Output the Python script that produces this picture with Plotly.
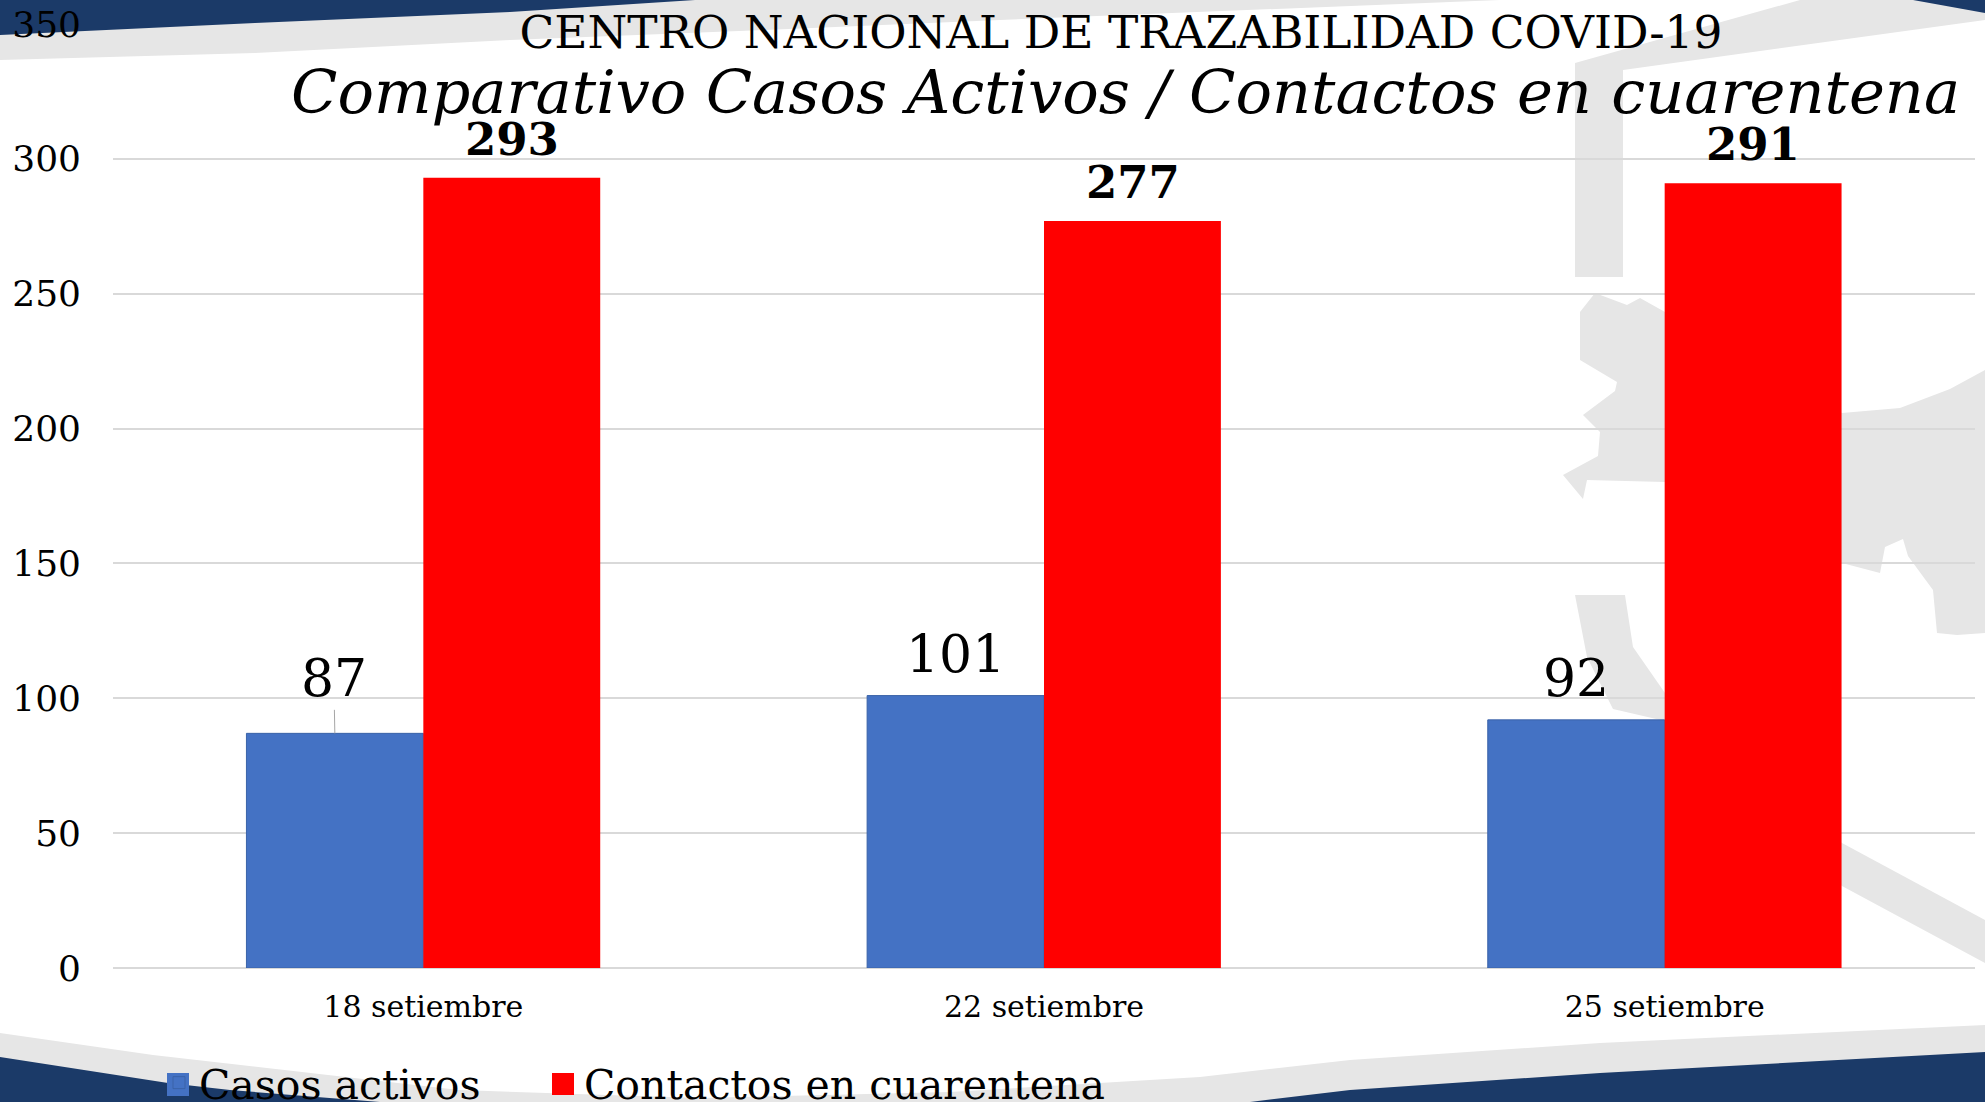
import plotly.graph_objects as go

categories = ["18 setiembre", "22 setiembre", "25 setiembre"]
casos_activos = [87, 101, 92]
contactos = [293, 277, 291]
y_ticks = [0, 50, 100, 150, 200, 250, 300, 350]
title_top = "CENTRO NACIONAL DE TRAZABILIDAD COVID-19"
title_main = "Comparativo Casos Activos / Contactos en cuarentena"

W, H = 1985, 1102
L, R, T, B = 113, 10, 24, 134
PW, PH = W - L - R, H - T - B
SERIF = "DejaVu Serif"
NAVY, GRAY = "#1b3a68", "#e6e6e6"


def path(points):
    parts = []
    for i, (x, y) in enumerate(points):
        parts.append(("M" if i == 0 else "L") + f"{(x - L) / PW:.5f},{1 - (y - T) / PH:.5f}")
    return " ".join(parts) + " Z"


def deco(points, color, layer="below"):
    return dict(type="path", xref="paper", yref="paper", path=path(points),
                fillcolor=color, line=dict(width=0), layer=layer)


backdrop = [
    [(0, 0), (1000, 0), (1000, 20), (765, 30), (510, 40), (255, 53), (0, 60)],
    [(1000, 0), (1500, 0), (1000, 20)],
    [(0, 0), (695, 0), (510, 12), (255, 23), (0, 35)],
    [(1800, 0), (1985, 0), (1985, 20), (1623, 70), (1623, 277), (1575, 277), (1575, 63)],
    [(1595, 293), (1627, 305), (1640, 298), (1665, 312), (1842, 413), (1900, 408), (1950, 389),
     (1985, 370), (1985, 633), (1957, 635), (1937, 633), (1933, 590), (1908, 556), (1903, 539),
     (1885, 547), (1880, 573), (1842, 563), (1665, 482), (1587, 480), (1583, 499), (1563, 475),
     (1598, 456), (1600, 432), (1583, 415), (1615, 391), (1617, 382), (1580, 360), (1580, 312)],
    [(1575, 595), (1625, 595), (1633, 647), (1665, 693), (1842, 843), (1985, 920), (1985, 963),
     (1842, 886), (1665, 721), (1613, 709), (1587, 657)],
    [(0, 1033), (153, 1055), (459, 1090), (700, 1098), (950, 1092), (1200, 1077), (1350, 1060),
     (1600, 1043), (1985, 1025), (1985, 1102), (0, 1102)],
    [(0, 1057), (168, 1083), (230, 1090), (380, 1102), (0, 1102)],
    [(1250, 1102), (1350, 1090), (1600, 1073), (1985, 1052), (1985, 1102)],
    [(1913, 0), (1985, 0), (1985, 13)],
]
shapes = [deco(p, NAVY if i in (2, 7, 8, 9) else GRAY) for i, p in enumerate(backdrop)]
shapes += [
    deco([(167, 1073), (189, 1073), (189, 1096), (167, 1096)], "#4472c4", "above"),
    deco([(552, 1073), (574, 1073), (574, 1095), (552, 1095)], "#ff0000", "above"),
]

fig = go.Figure()
fig.add_bar(name="Casos activos", x=categories, y=casos_activos, legend="legend",
            marker=dict(color="#4472c4", line=dict(color="#3a62a8", width=1)))
fig.add_bar(name="Contactos en cuarentena", x=categories, y=contactos, legend="legend2",
            marker=dict(color="#ff0000", line=dict(width=0)))

annotations = []
BAR_HALF = 88.5
for c, v in zip(categories, casos_activos):
    a = dict(x=c, y=v, text=str(v), xref="x", yref="y", xshift=-BAR_HALF,
             font=dict(family=SERIF, size=52, color="#000"))
    if v == casos_activos[0]:
        a.update(showarrow=True, arrowhead=0, arrowwidth=1, arrowcolor="#a6a6a6",
                 ax=-1, ay=-55, standoff=0)
    else:
        a.update(showarrow=False, yanchor="bottom", yshift=10)
    annotations.append(a)
for c, v in zip(categories, contactos):
    annotations.append(dict(x=c, y=v, text=f"<b>{v}</b>", xref="x", yref="y", xshift=BAR_HALF,
                            showarrow=False, yanchor="bottom", yshift=10,
                            font=dict(family=SERIF, size=45, color="#000")))
annotations.append(dict(x=(1125 - L) / PW, y=1 - (92 - T) / PH, xref="paper", yref="paper",
                        xanchor="center", yanchor="middle",
                        text=f"<i>{title_main}</i>", showarrow=False,
                        font=dict(family=SERIF, size=60.7, color="#000")))


def legend_at(x_px):
    return dict(orientation="h", x=(x_px - L) / PW, xanchor="left", y=1 - (1083 - T) / PH,
                yanchor="middle", font=dict(family=SERIF, size=41, color="#000"),
                bgcolor="rgba(0,0,0,0)")


fig.update_layout(
    width=W, height=H, autosize=False,
    margin=dict(l=L, r=R, t=T, b=B, pad=0, autoexpand=False),
    paper_bgcolor="#ffffff", plot_bgcolor="rgba(0,0,0,0)",
    barmode="group", bargap=0.43, bargroupgap=0,
    title=dict(text=title_top, x=1121 / W, xanchor="center", y=1 - 32 / H, yanchor="middle",
               font=dict(family=SERIF, size=45.5, color="#000")),
    font=dict(family=SERIF, color="#000"),
    showlegend=True,
    legend=legend_at(159),
    legend2=legend_at(544),
    shapes=shapes, annotations=annotations,
    xaxis=dict(type="category", showgrid=False, ticks="", showline=False,
               tickfont=dict(family=SERIF, size=30, color="#000"), ticklabelstandoff=18),
    yaxis=dict(range=[0, 350], tickvals=y_ticks, showgrid=True, gridcolor="#d9d9d9", gridwidth=2,
               zeroline=True, zerolinecolor="#d9d9d9", zerolinewidth=2, showline=False, ticks="",
               tickfont=dict(family=SERIF, size=36, color="#000"), ticklabelstandoff=31),
)

fig.write_html("out.html", config=dict(displayModeBar=False),
               post_script="document.body.style.margin='0';document.body.style.overflow='hidden';")
